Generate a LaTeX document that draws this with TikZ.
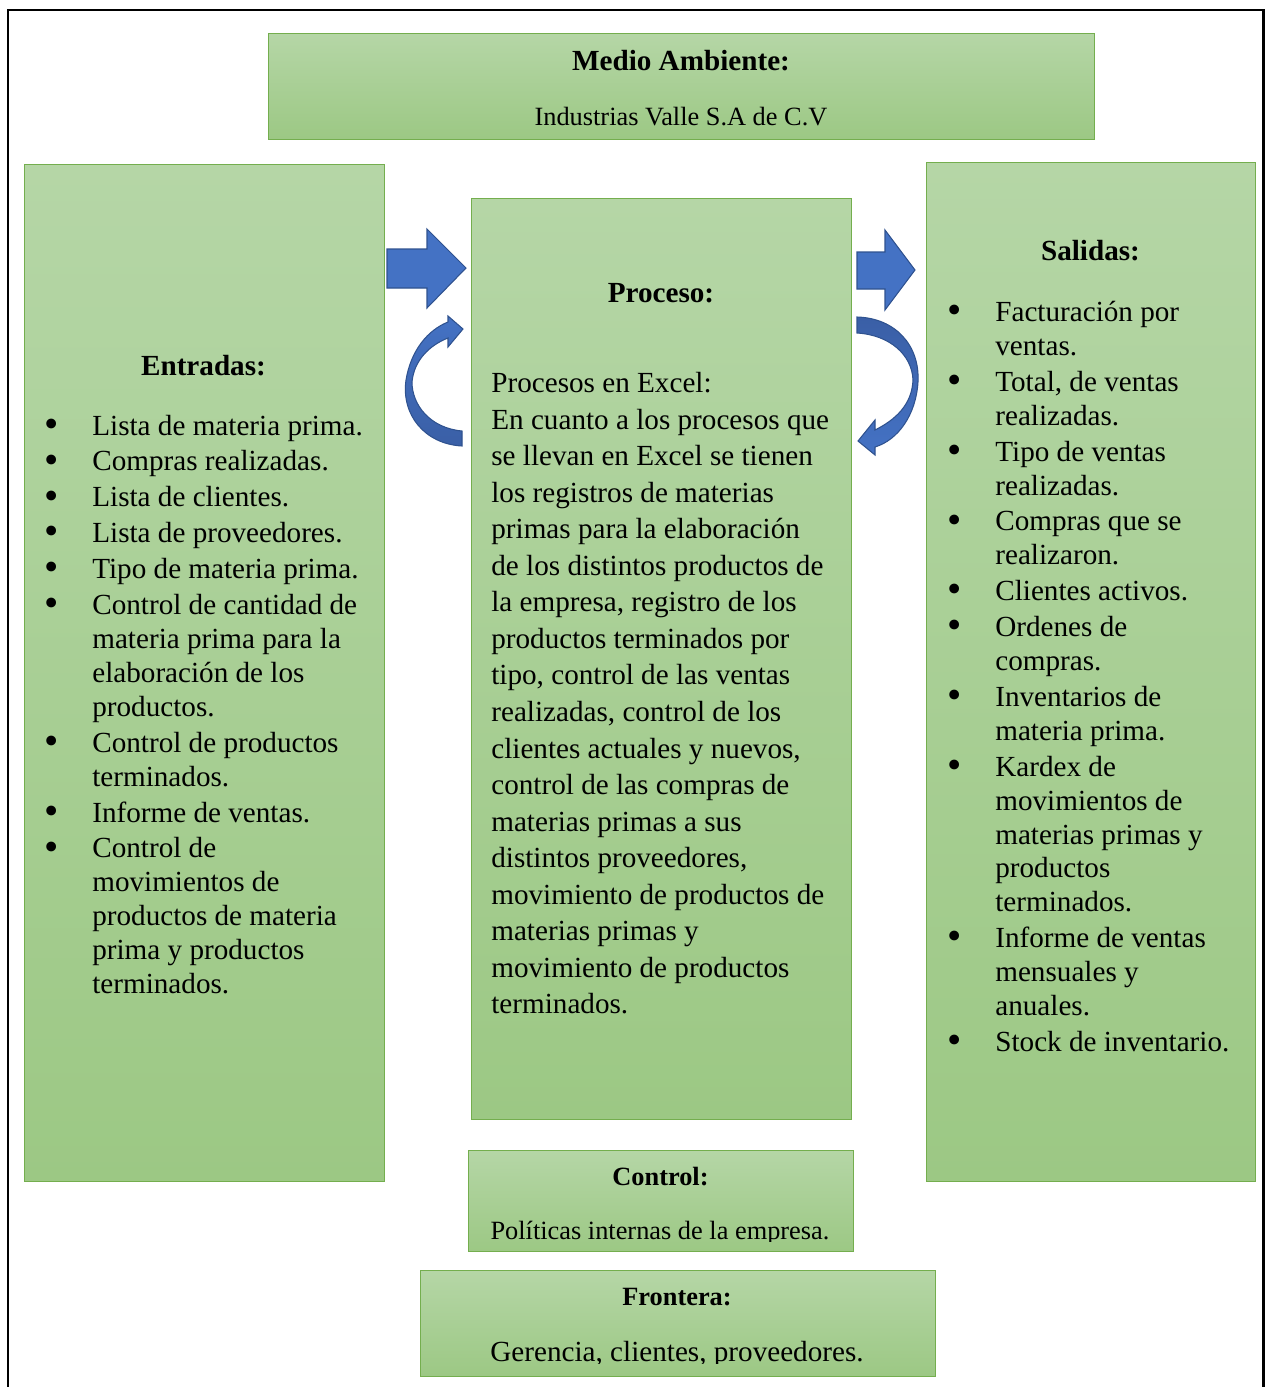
\documentclass[tikz,border=0pt]{standalone}
\usepackage{fontspec}
\setmainfont{Liberation Serif}
\usepackage{xcolor}
\usepackage{tikz}
\usetikzlibrary{positioning}

\definecolor{boxtop}{HTML}{B5D6A6}
\definecolor{boxbot}{HTML}{9CC884}
\definecolor{boxline}{HTML}{74AE4E}
\definecolor{arrowfill}{HTML}{4472C4}
\definecolor{arrowline}{HTML}{2F528F}
\definecolor{arrowdark}{HTML}{3A5FA6}

\newcommand{\bul}{\makebox[0.96cm][l]{\raisebox{-1.2pt}{\scalebox{1.4}{\textbullet}}}}
\newcommand{\ind}{\hspace*{0.96cm}}

\begin{document}
\begin{tikzpicture}[
    x=0.02cm, y=-0.02cm,
    greenbox/.style={draw=boxline, line width=0.8pt, top color=boxtop, bottom color=boxbot, anchor=north west, inner sep=0},
    head/.style={font=\fontsize{16.6}{19}\selectfont\bfseries, inner sep=0, anchor=base},
    smallhead/.style={font=\fontsize{15}{18}\selectfont\bfseries, inner sep=0, anchor=base},
    sub/.style={font=\fontsize{15}{18}\selectfont, inner sep=0, anchor=base},
    bigsub/.style={font=\fontsize{16.6}{19}\selectfont, inner sep=0, anchor=base},
    listtext/.style={font=\fontsize{16.6}{19.3}\selectfont, inner sep=0, align=left, anchor=north west},
    proctext/.style={font=\fontsize{16.6}{20.78}\selectfont, inner sep=0, align=left, anchor=north west},
    blockarrow/.style={fill=arrowfill, draw=arrowline, line width=0.6pt},
]
\useasboundingbox (0,0) rectangle (1267,1387);

% Outer frame
\draw[line width=1.7pt] (8,1400) -- (8,10) -- (1263,10) -- (1263,1400);

% Boxes
\node[greenbox, minimum width=16.52cm, minimum height=2.12cm] (medio) at (268,33) {};
\node[greenbox, minimum width=7.2cm, minimum height=20.34cm] (entradas) at (24,164) {};
\node[greenbox, minimum width=7.6cm, minimum height=18.42cm] (proceso) at (471,198) {};
\node[greenbox, minimum width=6.58cm, minimum height=20.38cm] (salidas) at (926,162) {};
\node[greenbox, minimum width=7.7cm, minimum height=2.02cm] (control) at (468,1150) {};
\node[greenbox, minimum width=10.3cm, minimum height=2.12cm] (frontera) at (420,1270) {};

% Medio ambiente
\node[head] (medioH) at (681,70) {Medio Ambiente:};
\node[sub] (medioT) at (681,125) {Industrias Valle S.A de C.V};

% Entradas
\node[head] (entradasH) at (203.5,375) {Entradas:};
\node[listtext] (entradasL) at (44,411) {\strut\bul Lista de materia prima.\\[1.13pt]
\bul Compras realizadas.\\[1.13pt]
\bul Lista de clientes.\\[1.13pt]
\bul Lista de proveedores.\\[1.13pt]
\bul Tipo de materia prima.\\[1.13pt]
\bul Control de cantidad de\\
\ind materia prima para la\\
\ind elaboración de los\\
\ind productos.\\[1.13pt]
\bul Control de productos\\
\ind terminados.\\[1.13pt]
\bul Informe de ventas.\\[1.13pt]
\bul Control de\\
\ind movimientos de\\
\ind productos de materia\\
\ind prima y productos\\
\ind terminados.};

% Proceso
\node[head] (procesoH) at (661,302) {Proceso:};
\node[proctext] (procesoT) at (491,367) {\strut Procesos en Excel:\\
En cuanto a los procesos que\\
se llevan en Excel se tienen\\
los registros de materias\\
primas para la elaboración\\
de los distintos productos de\\
la empresa, registro de los\\
productos terminados por\\
tipo, control de las ventas\\
realizadas, control de los\\
clientes actuales y nuevos,\\
control de las compras de\\
materias primas a sus\\
distintos proveedores,\\
movimiento de productos de\\
materias primas y\\
movimiento de productos\\
terminados.};

% Salidas
\node[head] (salidasH) at (1090.5,260) {Salidas:};
\node[listtext] (salidasL) at (947,297.4) {\strut\bul Facturación por\\
\ind ventas.\\[1.13pt]
\bul Total, de ventas\\
\ind realizadas.\\[1.13pt]
\bul Tipo de ventas\\
\ind realizadas.\\[1.13pt]
\bul Compras que se\\
\ind realizaron.\\[1.13pt]
\bul Clientes activos.\\[1.13pt]
\bul Ordenes de\\
\ind compras.\\[1.13pt]
\bul Inventarios de\\
\ind materia prima.\\[1.13pt]
\bul Kardex de\\
\ind movimientos de\\
\ind materias primas y\\
\ind productos\\
\ind terminados.\\[1.13pt]
\bul Informe de ventas\\
\ind mensuales y\\
\ind anuales.\\[1.13pt]
\bul Stock de inventario.};

% Control
\node[smallhead] (controlH) at (660.5,1185) {Control:};
\begin{scope}
  \clip (468,1150) rectangle (853,1241);
  \node[sub] (controlT) at (660,1239) {Políticas internas de la empresa.};
\end{scope}

% Frontera
\node[smallhead] (fronteraH) at (677,1305) {Frontera:};
\begin{scope}
  \clip (420,1270) rectangle (935,1363);
  \node[bigsub] (fronteraT) at (677,1361) {Gerencia, clientes, proveedores.};
\end{scope}

% Block arrows
\draw[blockarrow] (387,249) -- (427,249) -- (427,229) -- (466,268) -- (427,308) -- (427,288) -- (387,288) -- cycle;
\draw[blockarrow] (857,252) -- (885,252) -- (885,230) -- (915,270) -- (885,310) -- (885,289) -- (857,289) -- cycle;

% Curved arrows
\draw[draw=arrowline, line width=0.6pt, top color=arrowfill, bottom color=arrowdark]
  (462,446) .. controls (425,444) and (401,415) .. (406,380)
  .. controls (411,350) and (428,330) .. (448,322)
  -- (448,316) -- (463,329) -- (448,347) -- (448,338)
  .. controls (430,345) and (414,360) .. (412,382)
  .. controls (412,405) and (430,428) .. (462,431) -- cycle;
\draw[draw=arrowline, line width=0.6pt, top color=arrowdark, bottom color=arrowfill]
  (857,317) .. controls (895,318) and (920,345) .. (918,382)
  .. controls (916,415) and (898,440) .. (875,447)
  -- (875,455) -- (858,441) -- (875,420) -- (875,430)
  .. controls (895,420) and (912,405) .. (913,380)
  .. controls (912,355) and (890,335) .. (857,333) -- cycle;

\end{tikzpicture}
\end{document}
